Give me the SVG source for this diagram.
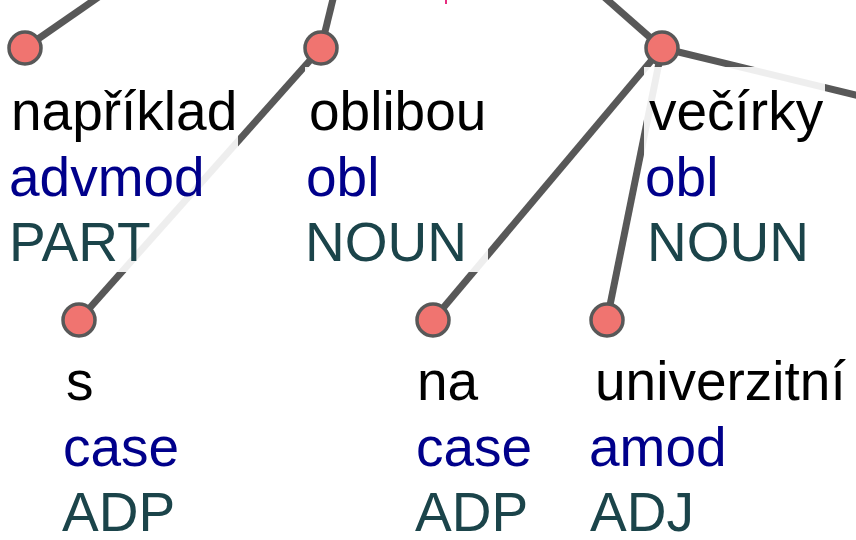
<svg xmlns="http://www.w3.org/2000/svg" width="856" height="540" viewBox="0 0 856 540">
<style>
.edge{stroke:#585858;stroke-width:7;fill:none;stroke-linecap:butt}
.bg{fill:#ffffff;fill-opacity:0.9}
.node{fill:#f07470;stroke:#585858;stroke-width:3.5}
text{font-family:"Liberation Sans",Arial,sans-serif;font-size:55px}
.w{fill:#000000}
.d{fill:#00008b}
.p{fill:#1b444a}
</style>
<rect width="856" height="540" fill="#ffffff"/>
<rect x="445" y="0" width="2" height="4" fill="#e62e80"/>
<g id="connectors">
<line class="edge" x1="25" y1="48" x2="100" y2="-4"/>
<line class="edge" x1="321" y1="48" x2="334" y2="-5"/>
<line class="edge" x1="662" y1="48" x2="603" y2="-4"/>
<line class="edge" x1="662" y1="48" x2="862" y2="96.5"/>
<line class="edge" x1="321" y1="48" x2="79" y2="320"/>
<line class="edge" x1="662" y1="48" x2="433" y2="320"/>
<line class="edge" x1="662" y1="48" x2="607" y2="320"/>
</g>
<g id="node-priklad">
<rect class="bg" x="5" y="67" width="233" height="205"/>
<text class="w" x="11" y="130">například</text>
<text class="d" x="9" y="196">advmod</text>
<text class="p" x="9" y="261">PART</text>
<circle class="node" cx="25" cy="48" r="16"/>
</g>
<g id="node-oblibou">
<rect class="bg" x="305" y="67" width="183" height="205"/>
<text class="w" x="309" y="130">oblibou</text>
<text class="d" x="306" y="196">obl</text>
<text class="p" x="305" y="261">NOUN</text>
<circle class="node" cx="321" cy="48" r="16"/>
</g>
<g id="node-vecirky">
<rect class="bg" x="644" y="67" width="181" height="205"/>
<text class="w" x="649" y="130">večírky</text>
<text class="d" x="645" y="196">obl</text>
<text class="p" x="647" y="261">NOUN</text>
<circle class="node" cx="662" cy="48" r="16"/>
</g>
<g id="node-s">
<rect class="bg" x="59" y="339" width="122" height="205"/>
<text class="w" x="66" y="400">s</text>
<text class="d" x="63" y="466">case</text>
<text class="p" x="62" y="531">ADP</text>
<circle class="node" cx="79" cy="320" r="16"/>
</g>
<g id="node-na">
<rect class="bg" x="411" y="339" width="122" height="205"/>
<text class="w" x="417" y="400">na</text>
<text class="d" x="416" y="466">case</text>
<text class="p" x="415" y="531">ADP</text>
<circle class="node" cx="433" cy="320" r="16"/>
</g>
<g id="node-univerzitni">
<rect class="bg" x="586" y="339" width="258" height="205"/>
<text class="w" x="595" y="400">univerzitní</text>
<text class="d" x="589" y="466">amod</text>
<text class="p" x="590" y="531">ADJ</text>
<circle class="node" cx="607" cy="320" r="16"/>
</g>
</svg>
